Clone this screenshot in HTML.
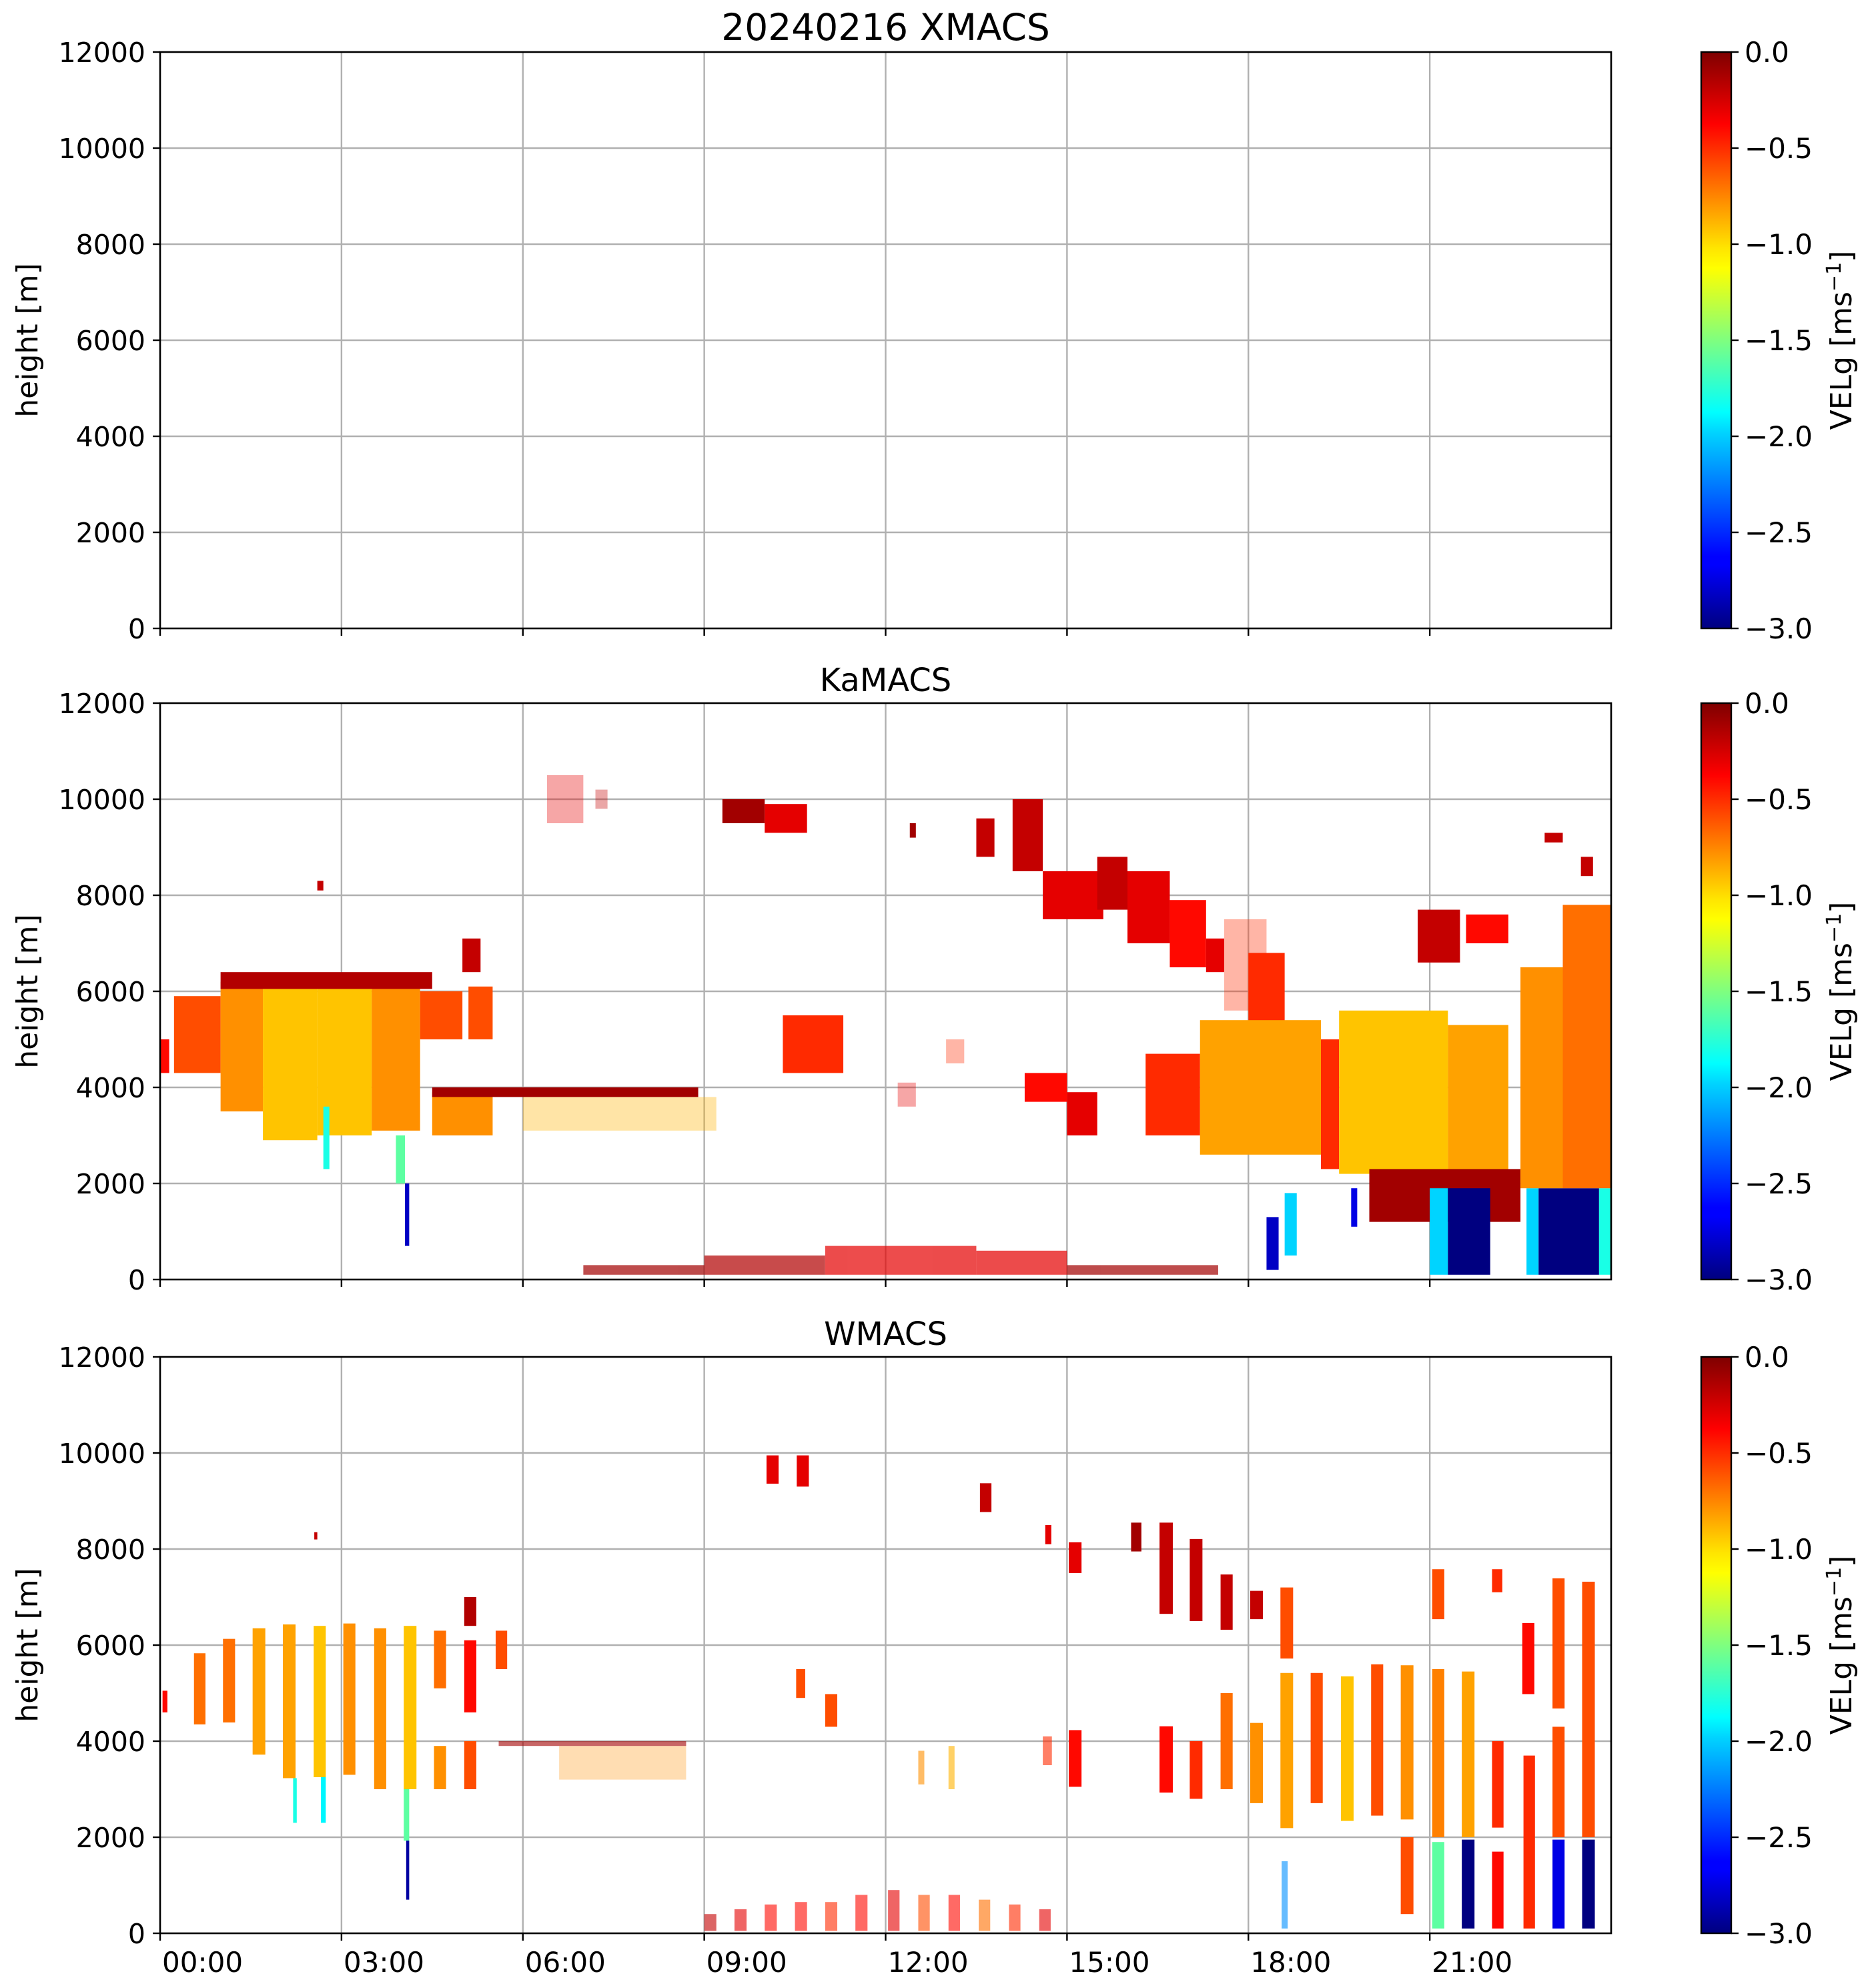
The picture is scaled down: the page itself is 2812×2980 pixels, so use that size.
<!DOCTYPE html>
<html><head><meta charset="utf-8"><style>
html,body{margin:0;padding:0;background:#fff}
svg{display:block}
text{font-family:"DejaVu Sans","Liberation Sans",sans-serif;fill:#000}
</style></head><body>
<svg id="fig" width="2812" height="2980" viewBox="0 0 2812 2980" xmlns="http://www.w3.org/2000/svg">
<defs>
<linearGradient id="jet" x1="0" y1="1" x2="0" y2="0">
<stop offset="0" stop-color="#00007f"/><stop offset="0.11" stop-color="#0000ff"/><stop offset="0.125" stop-color="#0000ff"/><stop offset="0.34" stop-color="#00d4ff"/><stop offset="0.375" stop-color="#0ff"/><stop offset="0.5" stop-color="#7fff7f"/><stop offset="0.625" stop-color="#ff0"/><stop offset="0.66" stop-color="#ffe500"/><stop offset="0.875" stop-color="#ff0000"/><stop offset="1" stop-color="#7f0000"/>
</linearGradient>
</defs>
<g id="layer"></g>
</svg>
<script>
// ---- data (hours, metres, m/s) ----
const panelTitles = ["20240216 XMACS", "KaMACS", "WMACS"];
const yTicks = [0, 2000, 4000, 6000, 8000, 10000, 12000];
const xTickHours = [0, 3, 6, 9, 12, 15, 18, 21];
const xTickLabels = ["00:00","03:00","06:00","09:00","12:00","15:00","18:00","21:00"];
const cbTicks = [0, -0.5, -1, -1.5, -2, -2.5, -3];
const cbLabels = ["0.0","\u22120.5","\u22121.0","\u22121.5","\u22122.0","\u22122.5","\u22123.0"];

// KaMACS dense segments [tStart, tEnd, hBottom, hTop, velocity]
const kaCloud = [
 [0.0,0.15,4300,5000,-0.4],[0.23,1.0,4300,5900,-0.6],[1.0,1.7,3500,6200,-0.8],[1.7,2.6,2900,6200,-0.95],
 [2.6,3.5,3000,6200,-0.95],[3.5,4.3,3100,6100,-0.8],[4.3,5.0,5000,6000,-0.6],[4.5,5.5,3000,3900,-0.8],
 [5.1,5.5,5000,6100,-0.6],[1.0,4.5,6050,6400,-0.15],[4.5,8.9,3800,4000,-0.1],
 [2.7,2.8,2300,3600,-1.8],[3.9,4.05,2000,3000,-1.6],[4.05,4.12,700,2000,-2.8],
 [2.6,2.7,8100,8300,-0.2],[5.0,5.3,6400,7100,-0.2],
 [9.3,10.0,9500,10000,-0.1],[10.0,10.7,9300,9900,-0.3],[10.3,11.3,4300,5500,-0.5],
 [12.4,12.5,9200,9500,-0.1],[13.5,13.8,8800,9600,-0.2],[14.1,14.6,8500,10000,-0.2],[14.6,15.6,7500,8500,-0.3],
 [14.3,15.0,3700,4300,-0.4],[15.0,15.5,3000,3900,-0.3],
 [15.5,16.0,7700,8800,-0.2],[16.0,16.7,7000,8500,-0.3],[16.7,17.3,6500,7900,-0.4],[17.3,17.6,6400,7100,-0.3],
 [18.0,18.6,5200,6800,-0.5],
 [16.3,17.2,3000,4700,-0.5],[17.2,19.2,2600,5400,-0.85],[19.2,19.5,2300,5000,-0.5],[19.5,21.3,2200,5600,-0.95],
 [21.3,22.3,2200,5300,-0.85],[20.0,22.5,1200,2300,-0.1],
 [21.0,21.3,100,1900,-2.0],[21.3,22.0,100,1900,-3.0],[22.6,22.8,100,1900,-2.0],[22.8,23.8,100,1900,-3.0],[23.8,24.0,100,1900,-1.8],
 [22.5,23.2,1900,6500,-0.8],[23.2,24.0,1900,7800,-0.7],
 [20.8,21.5,6600,7700,-0.2],[21.6,22.3,7000,7600,-0.4],[22.9,23.2,9100,9300,-0.2],[23.5,23.7,8400,8800,-0.2],
 [18.3,18.5,200,1300,-2.8],[18.6,18.8,500,1800,-2.0],[19.7,19.8,1100,1900,-2.7]
];
// KaMACS sparse segments (clutter, wisps)
const kaSparse = [
 [6.0,9.2,3100,3800,-0.9],[6.4,7.0,9500,10500,-0.3],[7.2,7.4,9800,10200,-0.2],[17.6,18.3,5600,7500,-0.5],
 [12.2,12.5,3600,4100,-0.3],[13.0,13.3,4500,5000,-0.5]
];
const kaClutter = [
 [7.0,9.0,100,300,-0.1],[9.0,11.0,100,500,-0.15],[11.0,13.5,100,700,-0.3],[13.5,15.0,100,600,-0.3],[15.0,17.5,100,300,-0.1]
];
// WMACS segments
const wCloud = [
 [0.04,0.12,4600,5050,-0.4],[0.56,0.75,4350,5830,-0.7],[1.04,1.24,4390,6130,-0.7],[1.53,1.74,3720,6350,-0.85],
 [2.03,2.24,3230,6430,-0.85],[2.2,2.26,2300,3230,-1.8],[2.54,2.74,3250,6400,-0.95],[2.66,2.74,2300,3250,-1.9],
 [3.03,3.23,3300,6450,-0.8],[3.54,3.74,3000,6350,-0.8],[4.03,4.24,3000,6400,-0.95],[4.03,4.12,1930,3000,-1.6],[4.07,4.12,700,1930,-2.9],
 [4.53,4.73,5100,6300,-0.7],[4.53,4.73,3000,3900,-0.8],[5.03,5.23,6400,7000,-0.15],[5.03,5.23,4600,6100,-0.4],[5.03,5.23,3000,4000,-0.6],
 [5.55,5.74,5500,6300,-0.6],[2.55,2.6,8200,8350,-0.2],
 [10.03,10.23,9360,9950,-0.3],[10.53,10.73,9300,9950,-0.3],[10.52,10.67,4900,5500,-0.6],[11.0,11.2,4300,4980,-0.6],
 [13.56,13.75,8770,9370,-0.2],[14.64,14.74,8100,8500,-0.3],[15.03,15.24,7500,8140,-0.3],
 [16.06,16.23,7950,8550,-0.1],[16.53,16.75,6650,8550,-0.2],[17.03,17.24,6500,8210,-0.2],[17.54,17.74,6320,7470,-0.2],
 [18.03,18.24,6540,7130,-0.2],[18.53,18.74,5720,7200,-0.6],[21.04,21.24,6540,7580,-0.6],[22.03,22.2,7100,7580,-0.5],
 [22.53,22.73,4980,6460,-0.4],[23.03,23.23,4680,7390,-0.6],[23.52,23.73,2000,7320,-0.6],
 [15.03,15.24,3050,4230,-0.4],[16.53,16.75,2930,4310,-0.4],[17.03,17.24,2800,4000,-0.5],[17.54,17.74,3000,5000,-0.7],
 [18.03,18.24,2710,4380,-0.8],[18.53,18.74,2190,5420,-0.85],[19.03,19.23,2710,5420,-0.6],[19.53,19.74,2340,5350,-0.95],
 [20.03,20.23,2450,5600,-0.6],[20.52,20.73,2370,5580,-0.8],[20.52,20.73,400,2000,-0.6],[21.04,21.24,2000,5500,-0.75],
 [21.04,21.24,100,1900,-1.6],[21.53,21.74,2000,5450,-0.85],[21.53,21.74,100,1950,-3.0],[22.03,22.22,2200,4000,-0.5],
 [22.03,22.22,100,1700,-0.4],[22.55,22.74,100,3700,-0.5],[23.03,23.23,2000,4300,-0.6],[23.03,23.23,100,1950,-2.7],
 [23.52,23.73,100,1950,-3.0]
];
const wSparse = [
 [5.6,8.7,3900,4000,-0.1],[9.0,9.2,50,400,-0.2],[9.5,9.7,50,500,-0.3],[10.0,10.2,50,600,-0.4],
 [10.5,10.7,50,650,-0.4],[11.0,11.2,50,650,-0.5],[11.5,11.7,50,800,-0.4],[12.04,12.23,50,900,-0.3],[12.54,12.73,50,800,-0.6],
 [13.04,13.23,50,800,-0.4],[13.54,13.73,50,700,-0.7],[14.04,14.23,50,600,-0.5],[14.54,14.73,50,500,-0.3],
 [12.54,12.64,3100,3800,-0.8],[13.04,13.14,3000,3900,-0.9],[14.6,14.75,3500,4100,-0.5],[18.55,18.65,100,1500,-2.2]
];
const wFaint = [
 [6.6,8.7,3200,3900,-0.8]
];

// ---- layout ----
const AX_L=240, AX_R=2415, AX_H=864;
const panelTop=[78,1054,2034];
const CB_L=2550, CB_R=2595;
const NS="http://www.w3.org/2000/svg";
const root=document.getElementById('layer');
function xs(h){return AX_L+(h/24)*(AX_R-AX_L);}
function ys(p,m){return panelTop[p]+AX_H*(1-m/12000);}
function cbY(p,v){return panelTop[p]+AX_H*(-v/3);}
function jet(v){
  const n=Math.max(0,Math.min(1,(v+3)/3));
  const c=x=>Math.round(255*Math.max(0,Math.min(1,x)));
  return `rgb(${c(1.5-Math.abs(4*n-3))},${c(1.5-Math.abs(4*n-2))},${c(1.5-Math.abs(4*n-1))})`;
}
function mk(tag,attrs,parent){const e=document.createElementNS(NS,tag);for(const k in attrs)e.setAttribute(k,attrs[k]);(parent||root).appendChild(e);return e;}

function drawSegs(p,segs,op,name){
  const g=mk('g',{opacity:op});
  
  
  segs.forEach(s=>{
    const x0=xs(s[0]),x1=xs(s[1]),yT=ys(p,s[3]),yB=ys(p,s[2]);
    const r=mk('rect',{x:x0,y:yT,width:Math.max(1,x1-x0),height:Math.max(1,yB-yT),fill:jet(s[4])},g);
    
    
  });
}

for(let p=0;p<3;p++){
  const ax=mk('g',{});
  
  
  yTicks.forEach(v=>{ if(v>0&&v<12000){const l=mk('line',{x1:AX_L,x2:AX_R,y1:ys(p,v),y2:ys(p,v),stroke:'#b0b0b0','stroke-width':2.4},ax);
    
    }});
  xTickHours.forEach(h=>{ if(h>0){const l=mk('line',{x1:xs(h),x2:xs(h),y1:panelTop[p],y2:panelTop[p]+AX_H,stroke:'#b0b0b0','stroke-width':2.4},ax);
    
    }});
}
drawSegs(1,kaSparse,0.35,'kamacs-sparse-echoes');
drawSegs(1,kaClutter,0.7,'kamacs-ground-clutter');
drawSegs(1,kaCloud,1,'kamacs-echoes');
drawSegs(2,wFaint,0.3,'wmacs-faint-echoes');
drawSegs(2,wSparse,0.6,'wmacs-sparse-echoes');
drawSegs(2,wCloud,1,'wmacs-echoes');

for(let p=0;p<3;p++){
  const top=panelTop[p], bot=top+AX_H;
  const fr=mk('rect',{x:AX_L,y:top,width:AX_R-AX_L,height:AX_H,fill:'none',stroke:'#000','stroke-width':2.6});
  
  
  yTicks.forEach(v=>{
    mk('line',{x1:AX_L-11,x2:AX_L,y1:ys(p,v),y2:ys(p,v),stroke:'#000','stroke-width':2.4});
    const t=mk('text',{x:AX_L-22,y:ys(p,v)+15,'text-anchor':'end','font-size':41});
    t.textContent=v;
    
    
  });
  xTickHours.forEach((h,i)=>{
    mk('line',{x1:xs(h),x2:xs(h),y1:bot,y2:bot+11,stroke:'#000','stroke-width':2.4});
    if(p===2){
      const t=mk('text',{x:xs(h)+3,y:bot+58,'font-size':42});
      t.textContent=xTickLabels[i];
      
      
    }
  });
  const yl=mk('text',{x:0,y:0,'text-anchor':'middle','font-size':44,transform:`translate(56,${top+AX_H/2}) rotate(-90)`});
  yl.textContent='height [m]';
  
  
  const ti=mk('text',{x:(AX_L+AX_R)/2,y:top-18,'text-anchor':'middle','font-size':p===0?55:48});
  ti.textContent=panelTitles[p];
  
  
  const cb=mk('rect',{x:CB_L,y:top,width:CB_R-CB_L,height:AX_H,fill:'url(#jet)',stroke:'#000','stroke-width':2.4});
  
  
  cbTicks.forEach((v,i)=>{
    mk('line',{x1:CB_R,x2:CB_R+11,y1:cbY(p,v),y2:cbY(p,v),stroke:'#000','stroke-width':2.4});
    const t=mk('text',{x:CB_R+20,y:cbY(p,v)+15,'font-size':42});
    t.textContent=cbLabels[i];
    
    
  });
  const cl=mk('text',{x:0,y:0,'text-anchor':'middle','font-size':44,transform:`translate(2775,${top+AX_H/2}) rotate(-90)`});
  cl.innerHTML='VELg [ms<tspan dy="-16" font-size="30">\u22121</tspan><tspan dy="16">]</tspan>';
  
  
}
</script>
</body></html>
